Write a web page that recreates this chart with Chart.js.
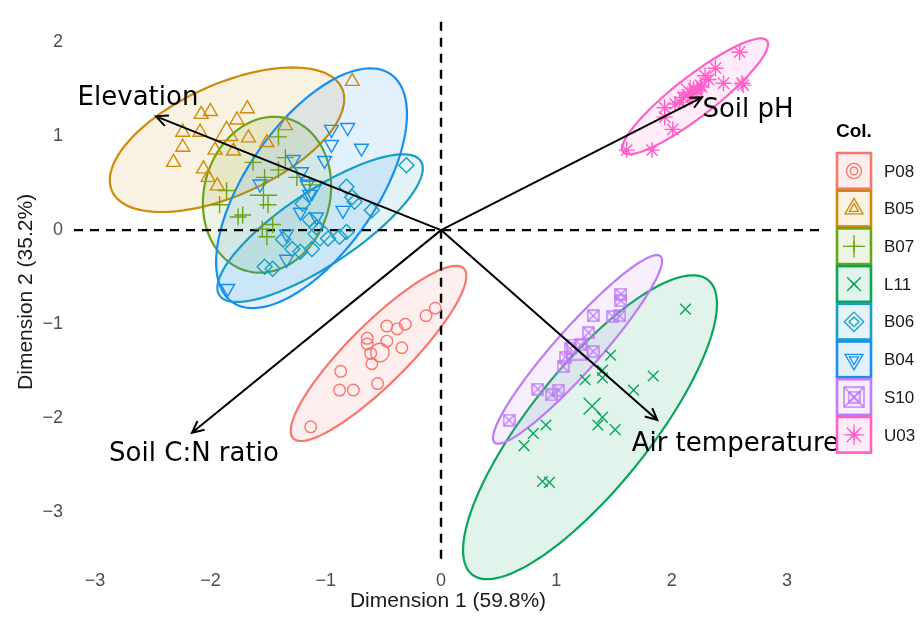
<!DOCTYPE html>
<html>
<head>
<meta charset="utf-8">
<script src="https://cdn.jsdelivr.net/npm/chart.js@4.4.1/dist/chart.umd.min.js"></script>
<style>
  html, body { margin: 0; padding: 0; background: #fff; }
  #wrap { width: 922px; height: 617px; }
</style>
</head>
<body>
<div id="wrap"><canvas id="pca" width="922" height="617"></canvas></div>
<script>
// groups (legend order)
const groupNames = ["P08", "B05", "B07", "L11", "B06", "B04", "S10", "U03"];
const groupColors = ["#F8766D", "#CF8C0A", "#6AA318", "#0AA558", "#17A0C2", "#168FF0", "#C07AF8", "#FF5FC8"];

// sample scores (Dimension 1, Dimension 2)
const p08Points = [[-0.05,-0.83],[-0.13,-0.91],[-0.31,-1.00],[-0.38,-1.05],[-0.47,-1.02],[-0.47,-1.18],[-0.34,-1.25],[-0.64,-1.15],[-0.64,-1.21],[-0.61,-1.31],[-0.60,-1.42],[-0.87,-1.50],[-0.88,-1.70],[-0.76,-1.70],[-0.55,-1.63],[-1.13,-2.09]];
const b05Points = [[-0.77,1.58],[-1.68,1.29],[-2.00,1.26],[-2.08,1.23],[-1.77,1.17],[-2.24,1.04],[-2.09,1.04],[-1.67,0.98],[-1.35,1.11],[-1.51,0.93],[-2.24,0.88],[-1.96,0.85],[-1.80,0.84],[-2.32,0.72],[-2.06,0.65],[-2.02,0.56],[-1.94,0.47]];
const b07Points = [[-1.41,0.99],[-1.35,0.77],[-1.63,0.72],[-1.41,0.64],[-1.25,0.56],[-1.53,0.56],[-1.14,0.48],[-1.86,0.42],[-1.50,0.27],[-1.92,0.27],[-1.72,0.16],[-1.76,0.14],[-1.46,0.06],[-1.55,0.01],[-1.51,-0.07]];
const l11Points = [[2.12,-0.84],[1.47,-1.33],[1.40,-1.49],[1.40,-1.57],[1.25,-1.59],[1.84,-1.55],[1.67,-1.70],[1.40,-1.99],[1.36,-2.07],[1.51,-2.12],[0.91,-2.07],[0.80,-2.16],[0.72,-2.29],[0.88,-2.67],[0.94,-2.68]];
const b06Points = [[-0.30,0.69],[-0.82,0.46],[-0.75,0.30],[-0.60,0.21],[-1.20,0.28],[-1.14,0.11],[-1.08,0.03],[-1.37,-0.10],[-0.98,-0.09],[-0.88,-0.07],[-0.82,-0.02],[-1.29,-0.20],[-1.12,-0.20],[-1.22,-0.23],[-1.53,-0.39],[-1.46,-0.41],[-0.77,0.35]];
const b04Points = [[-0.95,1.07],[-0.81,1.09],[-0.95,0.91],[-0.69,0.87],[-1.01,0.74],[-1.28,0.75],[-1.21,0.62],[-1.57,0.49],[-1.16,0.49],[-0.85,0.21],[-1.22,0.19],[-1.08,0.14],[-1.34,-0.04],[-1.34,-0.31],[-1.85,-0.62],[-1.14,0.38]];
const s10Points = [[1.56,-0.68],[1.56,-0.75],[1.55,-0.91],[1.49,-0.92],[1.32,-0.91],[1.28,-1.09],[1.21,-1.22],[1.12,-1.26],[1.32,-1.29],[1.08,-1.35],[1.06,-1.45],[0.84,-1.69],[1.02,-1.70],[0.96,-1.75],[0.59,-2.02]];
const u03Points = [[2.59,1.89],[2.38,1.72],[2.45,1.56],[2.61,1.56],[2.62,1.54],[2.29,1.64],[2.25,1.54],[2.19,1.50],[2.14,1.44],[2.10,1.41],[2.07,1.36],[1.94,1.30],[2.03,1.34],[1.94,1.20],[2.01,1.07],[1.83,0.85],[1.61,0.85],[2.22,1.48],[2.16,1.46],[2.26,1.52],[2.32,1.60],[2.18,1.42]];
const groupPoints = [p08Points, b05Points, b07Points, l11Points, b06Points, b04Points, s10Points, u03Points];

// group centroids (bigger symbols)
const groupMeans = [[-0.53,-1.30],[-1.86,1.02],[-1.54,0.37],[1.31,-1.87],[-1.05,-0.04],[-1.12,0.45],[1.18,-1.27],[2.16,1.46]];

// confidence ellipses: centre and two conjugate half axes
const ellipseCenter = [[-0.542,-1.310],[-1.856,0.960],[-1.509,0.376],[1.292,-2.094],[-1.049,0.021],[-1.123,0.445],[1.184,-1.267],[2.203,1.421]];
const ellipseU = [[0.739,0.903],[0.997,0.546],[0.172,0.811],[1.023,1.565],[0.873,0.713],[0.686,1.212],[0.719,0.990],[0.624,0.592]];
const ellipseV = [[0.184,-0.225],[0.198,-0.540],[0.529,-0.168],[0.407,-0.397],[0.178,-0.327],[0.463,-0.392],[0.143,-0.155],[0.107,-0.168]];

// variable loadings (arrows)
const loadingNames = ["Elevation", "Soil pH", "Soil C:N ratio", "Air temperature"];
const loadingX = [-2.472, 2.263, -2.160, 1.876];
const loadingY = [1.209, 1.410, -2.153, -2.018];

const xTicks = [-3, -2, -1, 0, 1, 2, 3];
const yTicks = [-3, -2, -1, 0, 1, 2];

// ---- styles
const shapeStyle = ["circle", "triangle", "cross", "crossRot", "rectRot", "triangle", "boxX", "star"];
const shapeRot = [0, 0, 0, 0, 0, 180, 0, 0];
const shapeSize = [5.8, 8, 8.5, 7.5, 7.5, 8, 7, 8];
const labelShift = [[-18, -18], [46, 13], [2, 21], [78, 24]];

function alpha(hex, a) {
  const n = parseInt(hex.slice(1), 16);
  return `rgba(${(n >> 16) & 255},${(n >> 8) & 255},${n & 255},${a})`;
}

function makeBoxX(size, color) {
  const c = document.createElement("canvas");
  c.width = size; c.height = size;
  const g = c.getContext("2d");
  g.strokeStyle = color; g.lineWidth = 1.4;
  const p = 1;
  g.strokeRect(p, p, size - 2 * p, size - 2 * p);
  g.beginPath();
  g.moveTo(p, p); g.lineTo(size - p, size - p);
  g.moveTo(size - p, p); g.lineTo(p, size - p);
  g.stroke();
  return c;
}

function styleFor(i, big) {
  if (shapeStyle[i] === "boxX") return makeBoxX(big ? 22 : 13, groupColors[i]);
  return shapeStyle[i];
}

const datasets = [];
groupNames.forEach((g, i) => {
  datasets.push({
    label: g,
    data: groupPoints[i].map(p => ({ x: p[0], y: p[1] })),
    pointStyle: styleFor(i, false),
    rotation: shapeRot[i],
    pointRadius: shapeSize[i],
    borderColor: groupColors[i],
    backgroundColor: "rgba(0,0,0,0)",
    pointBorderWidth: 1.4
  });
});
groupNames.forEach((g, i) => {
  datasets.push({
    label: g + " mean",
    data: [{ x: groupMeans[i][0], y: groupMeans[i][1] }],
    pointStyle: styleFor(i, true),
    rotation: shapeRot[i],
    pointRadius: shapeSize[i] * 1.6,
    borderColor: groupColors[i],
    backgroundColor: "rgba(0,0,0,0)",
    pointBorderWidth: 1.4
  });
});

const backdrop = {
  id: "backdrop",
  beforeDatasetsDraw(chart) {
    const { ctx, chartArea: a, scales: { x, y } } = chart;
    ctx.save();
    // ellipses
    groupNames.forEach((g, i) => {
      const c = ellipseCenter[i], u = ellipseU[i], v = ellipseV[i];
      ctx.beginPath();
      for (let k = 0; k <= 120; k++) {
        const t = k / 120 * Math.PI * 2;
        const px = x.getPixelForValue(c[0] + u[0] * Math.cos(t) + v[0] * Math.sin(t));
        const py = y.getPixelForValue(c[1] + u[1] * Math.cos(t) + v[1] * Math.sin(t));
        if (k === 0) ctx.moveTo(px, py); else ctx.lineTo(px, py);
      }
      ctx.closePath();
      ctx.fillStyle = alpha(groupColors[i], 0.12);
      ctx.fill();
      ctx.strokeStyle = groupColors[i];
      ctx.lineWidth = 2.2;
      ctx.stroke();
    });
    // zero lines
    const x0 = x.getPixelForValue(0), y0 = y.getPixelForValue(0);
    ctx.strokeStyle = "#000";
    ctx.lineWidth = 2.4;
    ctx.setLineDash([9, 7]);
    ctx.beginPath();
    ctx.moveTo(a.left, y0); ctx.lineTo(a.right, y0);
    ctx.moveTo(x0, a.top); ctx.lineTo(x0, a.bottom);
    ctx.stroke();
    ctx.restore();
  }
};

const arrows = {
  id: "arrows",
  afterDatasetsDraw(chart) {
    const { ctx, scales: { x, y } } = chart;
    const ox = x.getPixelForValue(0), oy = y.getPixelForValue(0);
    ctx.save();
    ctx.strokeStyle = "#000";
    ctx.fillStyle = "#000";
    ctx.lineWidth = 2;
    loadingNames.forEach((name, i) => {
      const tx = x.getPixelForValue(loadingX[i]), ty = y.getPixelForValue(loadingY[i]);
      const ang = Math.atan2(ty - oy, tx - ox);
      ctx.beginPath();
      ctx.moveTo(ox, oy); ctx.lineTo(tx, ty);
      ctx.moveTo(tx - 13 * Math.cos(ang - 0.45), ty - 13 * Math.sin(ang - 0.45));
      ctx.lineTo(tx, ty);
      ctx.lineTo(tx - 13 * Math.cos(ang + 0.45), ty - 13 * Math.sin(ang + 0.45));
      ctx.stroke();
      ctx.font = "26px 'DejaVu Sans'";
      ctx.textAlign = "center";
      ctx.textBaseline = "middle";
      ctx.fillText(name, tx + labelShift[i][0], ty + labelShift[i][1]);
    });
    ctx.restore();
  }
};

const keyBox = {
  id: "keyBox",
  afterDraw(chart) {
    const ctx = chart.ctx;
    ctx.save();
    ctx.fillStyle = "#000";
    ctx.font = "bold 19px 'Liberation Sans'";
    ctx.textAlign = "left";
    ctx.textBaseline = "middle";
    ctx.fillText("Col.", 836, 132);
    groupNames.forEach((g, i) => {
      const top = 152 + i * 37.7;
      ctx.fillStyle = "#fff";
      ctx.fillRect(837, top + 1, 34, 35.7);
      ctx.fillStyle = alpha(groupColors[i], 0.12);
      ctx.fillRect(837, top + 1, 34, 35.7);
      ctx.strokeStyle = groupColors[i];
      ctx.lineWidth = 2.6;
      ctx.strokeRect(837, top + 1, 34, 35.7);
      const cx = 854, cy = top + 19;
      ctx.fillStyle = "rgba(0,0,0,0)";
      ctx.lineWidth = 1.3;
      [false, true].forEach(big => {
        const st = styleFor(i, big);
        Chart.helpers.drawPoint(ctx, {
          pointStyle: st,
          rotation: shapeRot[i],
          radius: shapeSize[i] * (big ? 1.3 : 0.65),
          borderWidth: 1.3
        }, cx, cy);
      });
      ctx.fillStyle = "#1a1a1a";
      ctx.font = "17px 'Liberation Sans'";
      ctx.fillText(g, 884, cy + 1);
    });
    ctx.restore();
  }
};

new Chart(document.getElementById("pca"), {
  type: "scatter",
  data: { datasets },
  options: {
    responsive: false,
    animation: false,
    layout: { padding: { top: 10, right: 100, left: 0, bottom: 0 } },
    plugins: { legend: { display: false }, tooltip: { enabled: false } },
    scales: {
      x: {
        type: "linear",
        min: -3.183, max: 3.304,
        grid: { display: false, drawTicks: false },
        border: { display: false },
        afterBuildTicks: s => { s.ticks = xTicks.map(v => ({ value: v })); },
        afterFit: s => { s.height = 55; },
        ticks: { color: "#4d4d4d", font: { family: "Liberation Sans", size: 18 }, padding: 8,
                 callback: v => String(v).replace("-", "\u2212") },
        title: { display: true, text: "Dimension 1 (59.8%)", color: "#1a1a1a",
                 font: { family: "Liberation Sans", size: 21 }, padding: { top: 0, bottom: 3 } }
      },
      y: {
        type: "linear",
        min: -3.526, max: 2.213,
        grid: { display: false, drawTicks: false },
        border: { display: false },
        afterBuildTicks: s => { s.ticks = yTicks.map(v => ({ value: v })); },
        afterFit: s => { s.width = 74; },
        ticks: { color: "#4d4d4d", font: { family: "Liberation Sans", size: 18 }, padding: 11,
                 callback: v => String(v).replace("-", "\u2212") },
        title: { display: true, text: "Dimension 2 (35.2%)", color: "#1a1a1a",
                 font: { family: "Liberation Sans", size: 21 }, padding: { top: 14, bottom: 0 } }
      }
    }
  },
  plugins: [backdrop, arrows, keyBox]
});
</script>
</body>
</html>
